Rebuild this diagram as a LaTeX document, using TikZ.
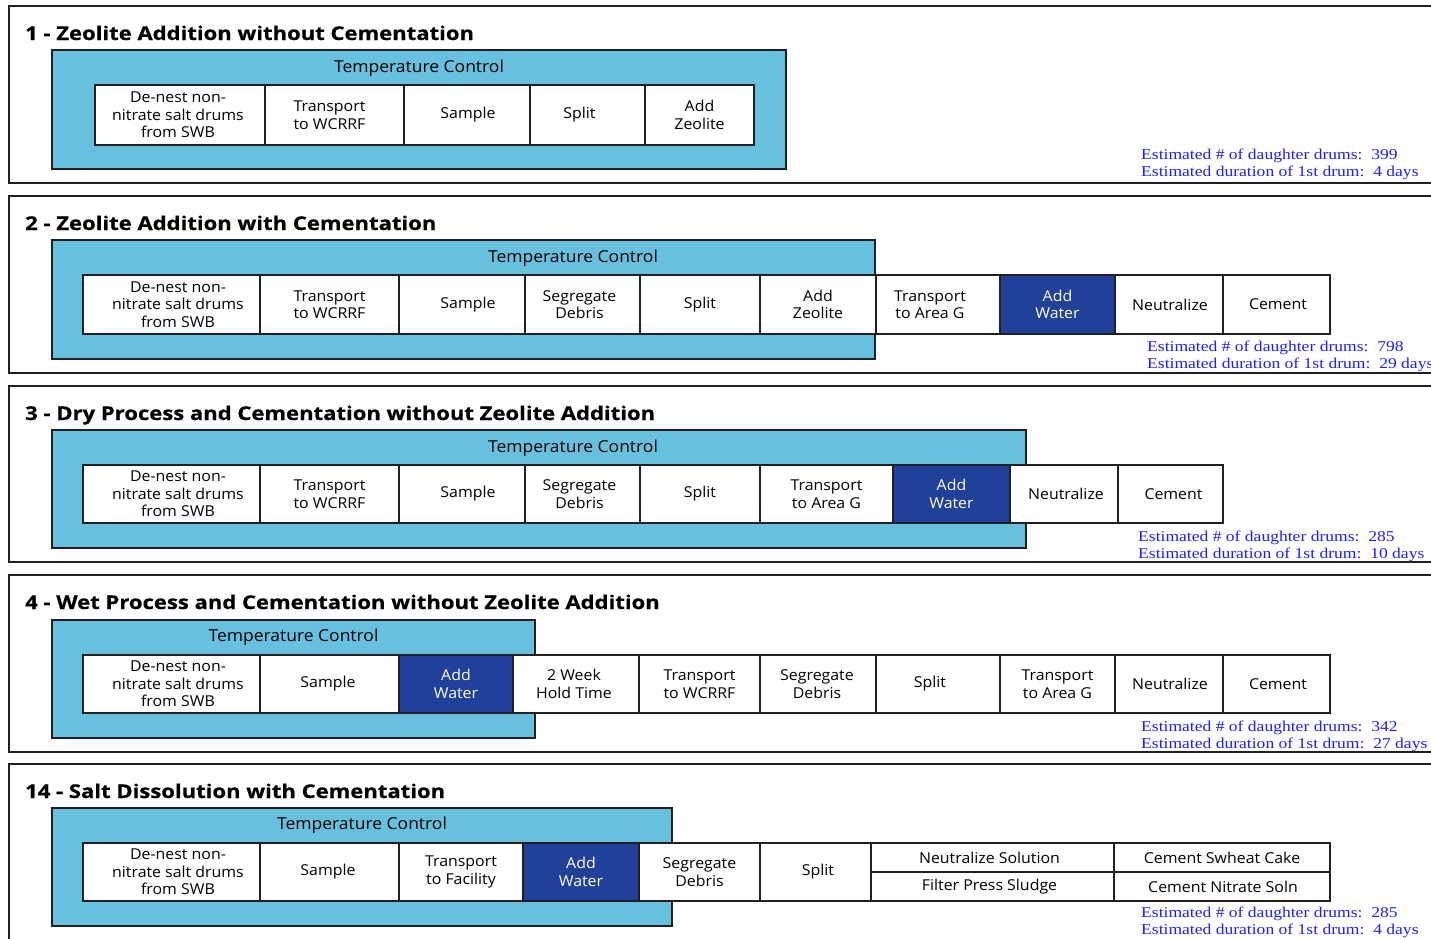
\documentclass[tikz,border=0pt]{standalone}
\usepackage{fontspec}
\setmainfont{Liberation Serif}[FakeStretch=1.17]
\newfontfamily\boxfont{Open Sans}[FakeStretch=1.06]
\newfontfamily\headfont{Open Sans}[FakeStretch=1.16, BoldFeatures={FakeBold=0.6}]
\definecolor{tcblue}{RGB}{104,192,223}
\definecolor{waterblue}{RGB}{33,64,154}
\definecolor{framecol}{RGB}{35,31,32}
\definecolor{notecol}{RGB}{30,30,250}
\tikzset{
  panel/.style={draw=framecol, line width=2.5pt},
  tcbox/.style={draw=framecol, fill=tcblue, line width=2.5pt},
  stage/.style={draw=framecol, fill=white, line width=2.5pt},
  water/.style={draw=framecol, fill=waterblue, line width=2.5pt},
  stagetext/.style={align=center, inner sep=0pt, font=\boxfont\fontsize{15}{17.5}\selectfont},
  watertext/.style={stagetext, text=white},
  paneltitle/.style={anchor=base west, inner sep=0pt, font=\headfont\bfseries\fontsize{19}{22}\selectfont},
  tclabel/.style={anchor=base, inner sep=0pt, font=\boxfont\fontsize{16.5}{18}\selectfont},
  note/.style={anchor=north west, align=left, inner sep=0pt, text=notecol,
    font=\fontsize{15}{17}\selectfont}
}
% one process step: [box style]{name}{left x}{right x}{text offset}{text};
% row limits come from \rowtop and \rowbot
\newcommand\stagebox[6][stage]{%
  \path[#1] (#3,\rowtop) rectangle (#4,\rowbot);
  \node[#1text] (#2) at ({((#3)+(#4))/2+(#5)},{(\rowtop+\rowbot)/2}) {#6};}
\begin{document}
\begin{tikzpicture}[x=1pt,y=-1pt]
\useasboundingbox (0,0) rectangle (1431,938);
\clip (0,0) rectangle (1431,938);

% ---------- 1 ----------
\draw[panel] (9,6) rectangle (1450,183);
\node[paneltitle] (t1) at (25,40) {1 - Zeolite Addition without Cementation};
\draw[tcbox] (52,50) rectangle (786,169);
\node[tclabel] (tc1) at (419,72) {Temperature Control};
\def\rowtop{85}\def\rowbot{145}
\stagebox{a1}{95}{265}{-2}{De-nest non-\\nitrate salt drums\\from SWB}
\stagebox{a2}{265}{404}{-5}{Transport\\to WCRRF}
\stagebox{a3}{404}{530}{1}{Sample}
\stagebox{a4}{530}{645}{-8}{Split}
\stagebox{a5}{645}{754}{0}{Add\\Zeolite}
\node[note] (n1) at (1141,149) {Estimated \# of daughter drums:\ \ 399\\Estimated duration of 1st drum:\ \ 4 days};

% ---------- 2 ----------
\draw[panel] (9,196) rectangle (1450,373);
\node[paneltitle] (t2) at (25,230) {2 - Zeolite Addition with Cementation};
\draw[tcbox] (52,240) rectangle (875,359);
\node[tclabel] (tc2) at (573,262) {Temperature Control};
\def\rowtop{275}\def\rowbot{334}
\stagebox{b1}{83}{260}{6.5}{De-nest non-\\nitrate salt drums\\from SWB}
\stagebox{b2}{260}{399}{0}{Transport\\to WCRRF}
\stagebox{b3}{399}{525}{6}{Sample}
\stagebox{b4}{525}{640}{-3}{Segregate\\Debris}
\stagebox{b5}{640}{760}{0}{Split}
\stagebox{b6}{760}{876}{0}{Add\\Zeolite}
\stagebox{b7}{876}{1000}{-8}{Transport\\to Area G}
\stagebox[water]{b8}{1000}{1115}{0}{Add\\Water}
\stagebox{b9}{1115}{1223}{1}{Neutralize}
\stagebox{b10}{1223}{1330}{1.5}{Cement}
\node[note] (n2) at (1147,341) {Estimated \# of daughter drums:\ \ 798\\Estimated duration of 1st drum:\ \ 29 days};

% ---------- 3 ----------
\draw[panel] (9,386) rectangle (1450,562);
\node[paneltitle] (t3) at (25,420) {3 - Dry Process and Cementation without Zeolite Addition};
\draw[tcbox] (52,430) rectangle (1026,548);
\node[tclabel] (tc3) at (573,452) {Temperature Control};
\def\rowtop{465}\def\rowbot{523}
\stagebox{c1}{83}{260}{6.5}{De-nest non-\\nitrate salt drums\\from SWB}
\stagebox{c2}{260}{399}{0}{Transport\\to WCRRF}
\stagebox{c3}{399}{525}{6}{Sample}
\stagebox{c4}{525}{640}{-3}{Segregate\\Debris}
\stagebox{c5}{640}{760}{0}{Split}
\stagebox{c6}{760}{893}{0}{Transport\\to Area G}
\stagebox[water]{c7}{893}{1010}{0}{Add\\Water}
\stagebox{c8}{1010}{1118}{2}{Neutralize}
\stagebox{c9}{1118}{1223}{3}{Cement}
\node[note] (n3) at (1138,531) {Estimated \# of daughter drums:\ \ 285\\Estimated duration of 1st drum:\ \ 10 days};

% ---------- 4 ----------
\draw[panel] (9,575) rectangle (1450,752);
\node[paneltitle] (t4) at (25,609) {4 - Wet Process and Cementation without Zeolite Addition};
\draw[tcbox] (52,620) rectangle (535,738);
\node[tclabel] (tc4) at (293.5,641.5) {Temperature Control};
\def\rowtop{655}\def\rowbot{713}
\stagebox{d1}{83}{260}{6.5}{De-nest non-\\nitrate salt drums\\from SWB}
\stagebox{d2}{260}{399}{-1.5}{Sample}
\stagebox[water]{d3}{399}{513}{0}{Add\\Water}
\stagebox{d4}{513}{639}{-2}{2 Week\\Hold Time}
\stagebox{d5}{639}{760}{0}{Transport\\to WCRRF}
\stagebox{d6}{760}{876}{-1}{Segregate\\Debris}
\stagebox{d7}{876}{1000}{-8}{Split}
\stagebox{d8}{1000}{1115}{0}{Transport\\to Area G}
\stagebox{d9}{1115}{1223}{1}{Neutralize}
\stagebox{d10}{1223}{1330}{1.5}{Cement}
\node[note] (n4) at (1141,721) {Estimated \# of daughter drums:\ \ 342\\Estimated duration of 1st drum:\ \ 27 days};

% ---------- 14 ----------
\draw[panel] (9,764) rectangle (1450,960);
\node[paneltitle] (t5) at (25,798) {14 - Salt Dissolution with Cementation};
\draw[tcbox] (52,808) rectangle (672,926);
\node[tclabel] (tc5) at (362,829.5) {Temperature Control};
\def\rowtop{843}\def\rowbot{901}
\stagebox{e1}{83}{260}{6.5}{De-nest non-\\nitrate salt drums\\from SWB}
\stagebox{e2}{260}{399}{-1.5}{Sample}
\stagebox{e3}{399}{523}{0}{Transport\\to Facility}
\stagebox[water]{e4}{523}{639}{0}{Add\\Water}
\stagebox{e5}{639}{760}{0}{Segregate\\Debris}
\stagebox{e6}{760}{871}{2.5}{Split}
\def\rowtop{843}\def\rowbot{872}
\stagebox{e7}{871}{1114}{-3}{Neutralize Solution}
\stagebox{e8}{1114}{1330}{0}{Cement Swheat Cake}
\def\rowtop{872}\def\rowbot{901}
\stagebox{e9}{871}{1114}{-3}{Filter Press Sludge}
\stagebox{e10}{1114}{1330}{1}{Cement Nitrate Soln}
\node[note] (n5) at (1141,907) {Estimated \# of daughter drums:\ \ 285\\Estimated duration of 1st drum:\ \ 4 days};
\end{tikzpicture}
\end{document}
